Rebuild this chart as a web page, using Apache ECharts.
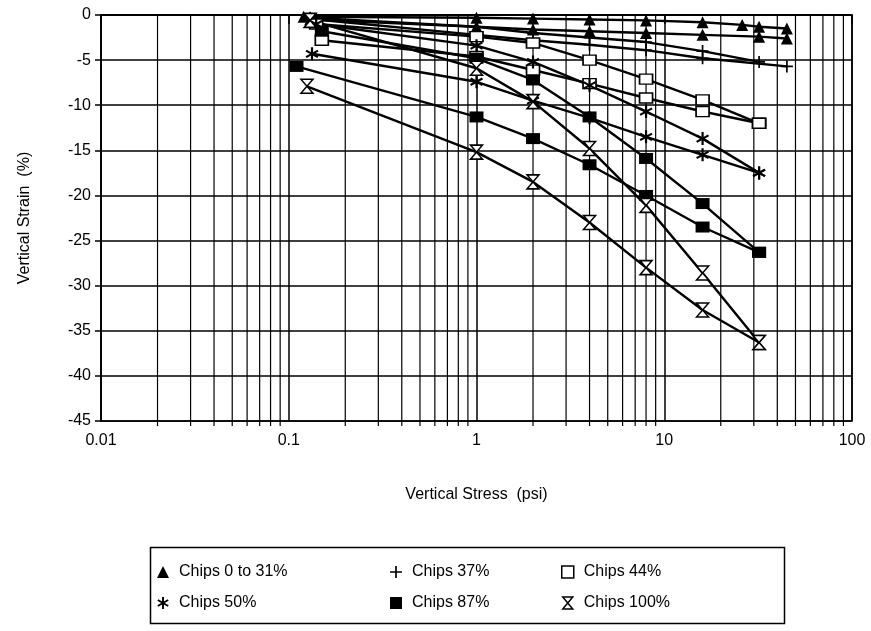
<!DOCTYPE html>
<html><head><meta charset="utf-8">
<script src="https://cdn.jsdelivr.net/npm/echarts@6/dist/echarts.min.js"></script>
<style>html,body{margin:0;padding:0;background:#fff}#c{width:871px;height:631px}</style>
</head><body><div id="c"></div>
<script>
// ---- data (x = vertical stress psi, y = vertical strain %) ----
const chips0to31_a = [[0.12,-0.2],[1,-0.3],[2,-0.4],[4,-0.5],[8,-0.6],[16,-0.8],[26,-1.1],[32,-1.3],[45,-1.5]];
const chips0to31_b = [[0.13,-0.5],[1,-1.3],[2,-1.6],[4,-1.8],[8,-2.0],[16,-2.2],[32,-2.4],[45,-2.6]];
const chips37_a = [[0.14,-0.5],[1,-2.2],[2,-2.8],[4,-3.3],[8,-3.9],[16,-4.8],[45,-5.7]];
const chips37_b = [[0.13,-0.3],[1,-1.3],[2,-2.0],[4,-2.5],[8,-3.0],[16,-4.0],[32,-5.2]];
const chips44_a = [[0.15,-2.8],[1,-4.6],[2,-6.1],[4,-7.6],[8,-9.2],[16,-10.7],[32,-12.0]];
const chips44_b = [[0.14,-1.0],[1,-2.4],[2,-3.1],[4,-5.0],[8,-7.1],[16,-9.4],[32,-12.0]];
const chips50_a = [[0.133,-4.3],[1,-7.4],[2,-9.5],[4,-11.4],[8,-13.5],[16,-15.5],[32,-17.5]];
const chips50_b = [[0.14,-1.0],[1,-3.4],[2,-5.2],[4,-7.8],[8,-10.7],[16,-13.7],[32,-17.5]];
const chips87_a = [[0.11,-5.7],[1,-11.3],[2,-13.7],[4,-16.6],[8,-20.0],[16,-23.5],[32,-26.3]];
const chips87_b = [[0.15,-1.8],[1,-4.8],[2,-7.2],[4,-11.3],[8,-15.9],[16,-20.9],[32,-26.3]];
const chips100_a = [[0.125,-7.9],[1,-15.2],[2,-18.5],[4,-23.0],[8,-28.0],[16,-32.7],[32,-36.3]];
const chips100_b = [[0.13,-0.6],[1,-5.9],[2,-9.6],[4,-14.8],[8,-21.1],[16,-28.6],[32,-36.3]];
const legendNames = ['Chips 0 to 31%','Chips 37%','Chips 44%','Chips 50%','Chips 87%','Chips 100%'];
const minorGridX = [0.02,0.03,0.04,0.05,0.06,0.07,0.08,0.09,0.2,0.3,0.4,0.5,0.6,0.7,0.8,0.9,2,3,4,5,6,7,8,9,20,30,40,50,60,70,80,90];

// ---- symbols ----
const PLUS = 'path://M-0.7,-5L0.7,-5L0.7,5L-0.7,5Z M-5,-0.7L5,-0.7L5,0.7L-5,0.7Z';
const STAR = 'path://M-0.8,-5L0.8,-5L0.8,5L-0.8,5Z M-4.73,-1.81L-3.93,-3.19L4.73,1.81L3.93,3.19Z M3.93,-3.19L4.73,-1.81L-3.93,3.19L-4.73,1.81Z';
const HOUR = 'path://M0,0L10,0L0,12L10,12Z';

const sty = {
  'Chips 0 to 31%': {symbol:'triangle', size:12, item:{color:'#000'}},
  'Chips 37%': {symbol:PLUS, size:12, item:{color:'#000'}},
  'Chips 44%': {symbol:'rect', size:[13,10], item:{color:'#fff', borderColor:'#000', borderWidth:1.5}},
  'Chips 50%': {symbol:STAR, size:13, item:{color:'#000'}},
  'Chips 87%': {symbol:'rect', size:[14,11], item:{color:'#000'}},
  'Chips 100%': {symbol:HOUR, size:[12,14], item:{color:'#fff', borderColor:'#000', borderWidth:1.5}}
};
const curves = [
  ['Chips 0 to 31%', chips0to31_a],['Chips 0 to 31%', chips0to31_b],
  ['Chips 37%', chips37_a],['Chips 37%', chips37_b],
  ['Chips 44%', chips44_a],['Chips 44%', chips44_b],
  ['Chips 50%', chips50_a],['Chips 50%', chips50_b],
  ['Chips 87%', chips87_a],['Chips 87%', chips87_b],
  ['Chips 100%', chips100_a],['Chips 100%', chips100_b]
];

const series = [{
  type:'custom', silent:true, z:1,
  data: minorGridX.map(v=>[v]),
  renderItem:function(params, api){
    const v = api.value(0);
    const p1 = api.coord([v, 0]);
    const p2 = api.coord([v, -45]);
    return {type:'group', children:[
      {type:'line', shape:{x1:p1[0], y1:p1[1], x2:p2[0], y2:p2[1]}, style:{stroke:'#000', lineWidth:1.2}},
      {type:'line', shape:{x1:p2[0], y1:p2[1], x2:p2[0], y2:p2[1]+5}, style:{stroke:'#000', lineWidth:1.2}}
    ]};
  }
}];
curves.forEach(function(c){
  const s = sty[c[0]];
  series.push({
    name:c[0], type:'line', data:c[1], z:3,
    symbol:s.symbol, symbolSize:s.size, showAllSymbol:true,
    lineStyle:{color:'#000', width:2.4},
    itemStyle:s.item,
    emphasis:{disabled:true}, animation:false
  });
});

function legendItem(n){
  const s = sty[n];
  return {name:n, icon:s.symbol, itemStyle:s.item};
}
const legendBase = {
  orient:'vertical', itemGap:15, itemWidth:12, itemHeight:12,
  textStyle:{fontFamily:'Liberation Sans', fontSize:16, color:'#000', padding:[0,0,0,5]},
  selectedMode:false
};

const chart = echarts.init(document.getElementById('c'), null, {renderer:'canvas'});
chart.setOption({
  animation:false,
  backgroundColor:'#fff',
  grid:{left:101, right:19, top:15, bottom:210, show:true, borderColor:'#000', borderWidth:1.5, backgroundColor:'transparent'},
  xAxis:{
    type:'log', logBase:10, min:0.01, max:100,
    name:'Vertical Stress  (psi)', nameLocation:'middle', nameGap:66,
    nameTextStyle:{fontFamily:'Liberation Sans', fontSize:16, color:'#000'},
    axisLine:{lineStyle:{color:'#000', width:1.5}},
    axisTick:{show:true, length:9, lineStyle:{color:'#000', width:1.5}},
    axisLabel:{fontFamily:'Liberation Sans', fontSize:16, color:'#000', margin:12},
    splitLine:{show:true, lineStyle:{color:'#000', width:1.5}},
    minorTick:{show:false}, minorSplitLine:{show:false}
  },
  yAxis:{
    type:'value', min:-45, max:0, interval:5,
    name:'Vertical Strain  (%)', nameLocation:'middle', nameGap:68, nameRotate:90,
    nameTextStyle:{fontFamily:'Liberation Sans', fontSize:16, color:'#000'},
    axisLine:{lineStyle:{color:'#000', width:1.5}},
    axisTick:{show:true, length:6, lineStyle:{color:'#000', width:1.5}},
    axisLabel:{fontFamily:'Liberation Sans', fontSize:16, color:'#000', margin:10},
    splitLine:{show:true, lineStyle:{color:'#000', width:1.5}}
  },
  legend:[
    Object.assign({}, legendBase, {left:152, top:559, data:[legendItem('Chips 0 to 31%'), legendItem('Chips 50%')]}),
    Object.assign({}, legendBase, {left:385, top:559, data:[legendItem('Chips 37%'), legendItem('Chips 87%')]}),
    Object.assign({}, legendBase, {left:556, top:559, data:[legendItem('Chips 44%'), legendItem('Chips 100%')]})
  ],
  graphic:[{type:'rect', left:148, top:545, shape:{width:634, height:76}, style:{fill:'none', stroke:'#000', lineWidth:1.5}, silent:true}],
  series:series
});
</script></body></html>
